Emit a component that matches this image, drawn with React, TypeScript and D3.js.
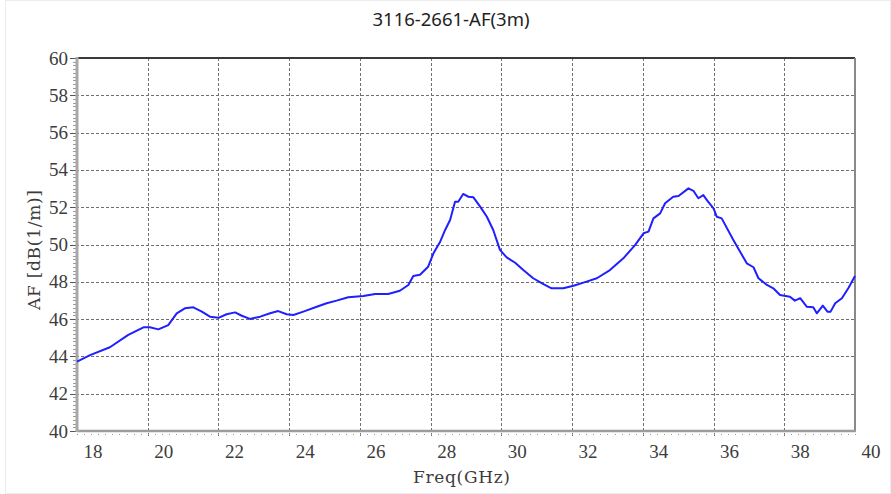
import React, { useEffect, useRef } from 'react';
import * as d3 from 'd3';

const title = '3116-2661-AF(3m)';
const xLabel = 'Freq(GHz)';
const yLabel = 'AF [dB(1/m)]';

const xTicks = [18, 20, 22, 24, 26, 28, 30, 32, 34, 36, 38, 40];
const yTicks = [40, 42, 44, 46, 48, 50, 52, 54, 56, 58, 60];

const freqGHz = [
  18.0, 18.37, 18.93, 19.45, 19.88, 20.06, 20.3, 20.58, 20.82, 21.05, 21.29, 21.53, 21.76, 22.0,
  22.23, 22.47, 22.66, 22.89, 23.18, 23.46, 23.69, 23.93, 24.12, 24.4, 24.78, 25.06, 25.34, 25.67,
  26.1, 26.43, 26.8, 27.13, 27.37, 27.51, 27.7, 27.93, 28.08, 28.27, 28.41, 28.55, 28.69, 28.78,
  28.92, 29.07, 29.21, 29.4, 29.59, 29.77, 29.96, 30.15, 30.39, 30.62, 30.9, 31.19, 31.42, 31.75,
  32.04, 32.41, 32.7, 33.07, 33.45, 33.78, 34.02, 34.16, 34.3, 34.49, 34.63, 34.86, 35.01, 35.29,
  35.43, 35.57, 35.71, 35.85, 36.0, 36.09, 36.23, 36.56, 36.94, 37.13, 37.27, 37.51, 37.69, 37.88,
  38.16, 38.3, 38.45, 38.64, 38.82, 38.92, 39.09, 39.22, 39.31, 39.44, 39.63, 39.81, 40.0,
];
const afDb = [
  43.72, 44.07, 44.49, 45.15, 45.56, 45.56, 45.45, 45.68, 46.31, 46.58, 46.63, 46.4, 46.13, 46.07,
  46.26, 46.36, 46.18, 46.01, 46.13, 46.31, 46.43, 46.26, 46.22, 46.4, 46.66, 46.85, 46.99, 47.17,
  47.24, 47.35, 47.35, 47.52, 47.83, 48.31, 48.38, 48.81, 49.53, 50.15, 50.78, 51.31, 52.29, 52.29,
  52.71, 52.56, 52.53, 52.03, 51.49, 50.78, 49.71, 49.31, 49.02, 48.63, 48.19, 47.87, 47.65, 47.65,
  47.79, 48.01, 48.19, 48.63, 49.26, 49.97, 50.6, 50.69, 51.4, 51.67, 52.21, 52.56, 52.6, 53.01,
  52.88, 52.48, 52.65, 52.29, 51.94, 51.49, 51.4, 50.24, 48.99, 48.78, 48.19, 47.83, 47.65, 47.29,
  47.2, 46.99, 47.12, 46.66, 46.63, 46.31, 46.72, 46.4, 46.4, 46.85, 47.12, 47.65, 48.31,
];

function AfChart() {
  const svgRef = useRef<SVGSVGElement>(null);

  useEffect(() => {
    const width = 891;
    const height = 494;
    const margin = { top: 58, right: 36, bottom: 63, left: 77 };
    const svg = d3.select(svgRef.current);
    svg.selectAll('*').remove();

    const x = d3.scaleLinear().domain([18, 40]).range([margin.left, width - margin.right]);
    const y = d3.scaleLinear().domain([40, 60]).range([height - margin.bottom, margin.top]);
    const [x0, x1] = x.range();
    const [y0, y1] = y.range();

    // window frame
    svg.append('rect')
      .attr('x', 5.5).attr('y', 0.5)
      .attr('width', width - 6).attr('height', height - 1)
      .attr('fill', '#fff')
      .attr('stroke', '#ececec');

    svg.append('text')
      .attr('x', 451).attr('y', 26)
      .attr('text-anchor', 'middle')
      .style('font-family', '"Noto Sans", sans-serif')
      .style('font-size', '18.5px')
      .attr('fill', '#222')
      .text(title);

    // grid
    const grid = svg.append('g')
      .attr('stroke', '#707070')
      .attr('stroke-width', 1)
      .attr('stroke-dasharray', '3,2');
    xTicks.slice(1, -1).forEach(t => {
      grid.append('line')
        .attr('x1', Math.round(x(t)) + 0.5).attr('x2', Math.round(x(t)) + 0.5)
        .attr('y1', y1).attr('y2', y0 + 6);
    });
    yTicks.slice(1, -1).forEach(t => {
      grid.append('line')
        .attr('x1', x0 - 6).attr('x2', x1)
        .attr('y1', Math.round(y(t)) + 0.5).attr('y2', Math.round(y(t)) + 0.5);
    });

    // minor ticks
    const minor = svg.append('g').attr('stroke', '#9a9a9a').attr('stroke-width', 1);
    d3.range(40, 60.001, 0.2).forEach(v => {
      minor.append('line')
        .attr('x1', x0 - 4).attr('x2', x0)
        .attr('y1', Math.round(y(v)) + 0.5).attr('y2', Math.round(y(v)) + 0.5);
    });
    d3.range(18, 40.001, 0.2).forEach(v => {
      minor.append('line')
        .attr('x1', Math.round(x(v)) + 0.5).attr('x2', Math.round(x(v)) + 0.5)
        .attr('y1', y0).attr('y2', y0 + 4)
        .attr('stroke-dasharray', '1,2');
    });
    yTicks.forEach(t => {
      minor.append('line')
        .attr('x1', x0 - 7).attr('x2', x0)
        .attr('y1', Math.round(y(t)) + 0.5).attr('y2', Math.round(y(t)) + 0.5)
        .attr('stroke', '#555');
    });

    // frame
    svg.append('line').attr('x1', x0).attr('x2', x1).attr('y1', y1).attr('y2', y1)
      .attr('stroke', '#3a3a3a').attr('stroke-width', 2);
    svg.append('line').attr('x1', x1).attr('x2', x1).attr('y1', y1).attr('y2', y0)
      .attr('stroke', '#8a8a8a').attr('stroke-width', 2);
    svg.append('line').attr('x1', x0).attr('x2', x1 + 1).attr('y1', y0).attr('y2', y0)
      .attr('stroke', '#9c9c9c').attr('stroke-width', 2.5);
    svg.append('line').attr('x1', x0).attr('x2', x0).attr('y1', y1 - 1).attr('y2', y0 + 1)
      .attr('stroke', '#a8a8a8').attr('stroke-width', 3);

    // tick labels
    const labelFont = '"Liberation Serif", serif';
    svg.append('g').selectAll('text')
      .data(yTicks)
      .join('text')
      .attr('x', x0 - 9)
      .attr('y', d => y(d) + 6.5)
      .attr('text-anchor', 'end')
      .style('font-family', labelFont)
      .style('font-size', '19px')
      .attr('fill', '#3c3c3c')
      .text(d => d);

    svg.append('g').selectAll('text')
      .data(xTicks)
      .join('text')
      .attr('x', d => x(d) + 16)
      .attr('y', y0 + 27)
      .attr('text-anchor', 'middle')
      .style('font-family', labelFont)
      .style('font-size', '19px')
      .attr('fill', '#3c3c3c')
      .text(d => d);

    svg.append('text')
      .attr('x', 461.5).attr('y', y0 + 52)
      .attr('text-anchor', 'middle')
      .attr('textLength', 97)
      .style('font-family', '"DejaVu Serif", "Liberation Serif", serif')
      .style('font-size', '17px')
      .attr('fill', '#3c3c3c')
      .text(xLabel);

    svg.append('text')
      .attr('transform', `translate(40,250) rotate(-90)`)
      .attr('text-anchor', 'middle')
      .attr('textLength', 120)
      .style('font-family', '"DejaVu Serif", "Liberation Serif", serif')
      .style('font-size', '17px')
      .attr('fill', '#3c3c3c')
      .text(yLabel);

    // trace
    const points = freqGHz.map((f, i) => [f, afDb[i]] as [number, number]);
    const line = d3.line<[number, number]>()
      .x(d => x(d[0]))
      .y(d => y(d[1]));
    svg.append('path')
      .datum(points)
      .attr('fill', 'none')
      .attr('stroke', '#1f1fff')
      .attr('stroke-width', 2)
      .attr('stroke-linejoin', 'round')
      .attr('d', line);
  }, []);

  return (
    <svg
      ref={svgRef}
      width={891}
      height={494}
      style={{ position: 'absolute', left: 0, top: 0, background: '#fff' }}
    />
  );
}

export default function App() {
  return <AfChart />;
}
